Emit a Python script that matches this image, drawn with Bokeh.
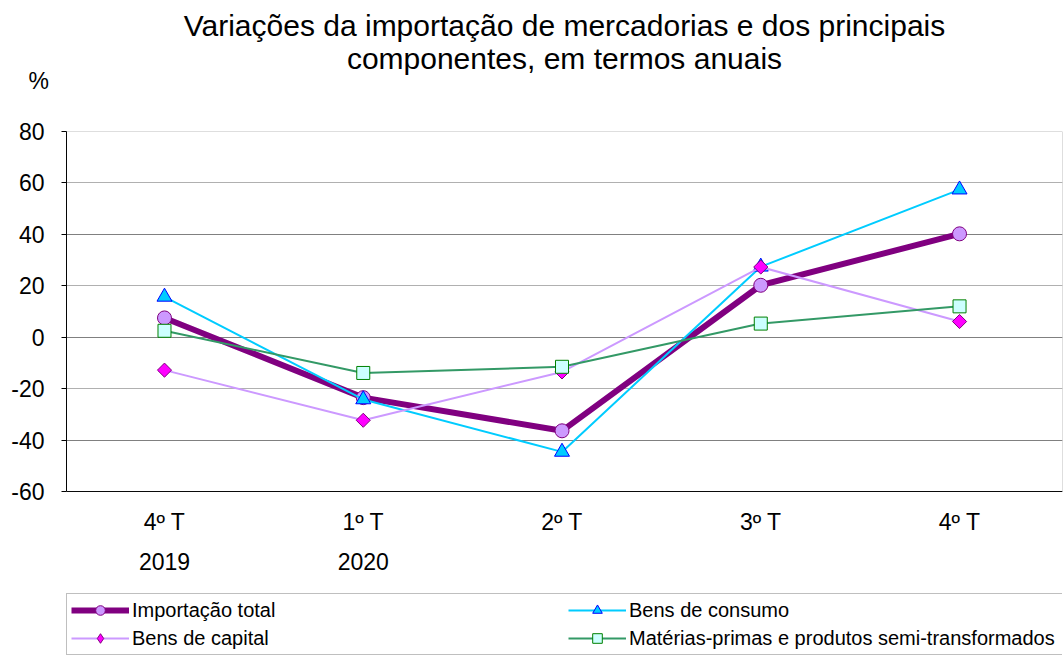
import numpy as np
from bokeh.plotting import figure
from bokeh.models import (Range1d, FixedTicker, LinearAxis, Legend, LegendItem, Grid, Title,
                          BoxAnnotation)
from bokeh.embed import file_html
from bokeh.resources import INLINE

# ---- data ----
quarters = ["4º T", "1º T", "2º T", "3º T", "4º T"]
years = ["2019", "2020"]
xpos = [0, 1, 2, 3, 4]
year_pos = [0, 1]
importacao_total = [7.5, -23.5, -36.4, 20.2, 40.2]
bens_consumo = [15.7, -24.2, -44.6, 27.4, 57.4]
bens_capital = [-12.8, -32.3, -13.5, 27.3, 6.1]
materias_primas = [2.5, -13.9, -11.5, 5.3, 12.0]
yticks = [-60, -40, -20, 0, 20, 40, 60, 80]
ytick_labels = ["-60", "-40", "-20", "0", "20", "40", "60", "80"]
title_lines = ["Variações da importação de mercadorias e dos principais",
               "componentes, em termos anuais"]
unit_label = "%"

FONT = "Liberation Sans"
Y_MIN, Y_MAX = yticks[0], yticks[-1]
PX_PER_UNIT = 360 / (Y_MAX - Y_MIN)          # plot box is 360 px tall
Y_LOW = Y_MIN - 164 / PX_PER_UNIT             # room below the box for labels + legend

p = figure(width=1064, height=655, output_backend="svg", toolbar_location=None,
           x_range=Range1d(-0.493, 4.518), y_range=Range1d(Y_LOW, Y_MAX),
           min_border_left=66, min_border_right=2, min_border_top=131,
           min_border_bottom=0)
p.background_fill_color = "white"
p.border_fill_color = "white"
p.outline_line_color = None

# plot box border
p.add_layout(BoxAnnotation(bottom=Y_MIN, top=Y_MAX, fill_alpha=0, fill_color=None,
                           line_color="#202020", line_width=1, level="overlay"))

# titles stacked in the top panel; the first one added is nearest to the frame
p.add_layout(Title(text=" ", standoff=24.9, text_font=FONT, text_font_size="10px"), "above")
p.add_layout(Title(text=unit_label, align="left", offset=-38, standoff=0,
                   text_font=FONT, text_font_size="23px", text_font_style="normal",
                   text_color="black"), "above")
p.add_layout(Title(text=title_lines[1], align="center", standoff=-18.3,
                   text_font=FONT, text_font_size="30px", text_font_style="normal",
                   text_color="black"), "above")
p.add_layout(Title(text=title_lines[0], align="center", standoff=12.3,
                   text_font=FONT, text_font_size="30px", text_font_style="normal",
                   text_color="black"), "above")

p.xgrid.visible = False
p.ygrid.visible = False
p.add_layout(Grid(dimension=1, ticker=FixedTicker(ticks=[60, 20, -20]), grid_line_color="#b0b0b0"))
p.add_layout(Grid(dimension=1, ticker=FixedTicker(ticks=[40, 0, -40]), grid_line_color="#808080"))

p.yaxis.ticker = FixedTicker(ticks=yticks)
p.yaxis.bounds = (Y_MIN, Y_MAX)
p.yaxis.major_label_overrides = {t: s for t, s in zip(yticks, ytick_labels)}
p.yaxis.major_label_text_font = FONT
p.yaxis.major_label_text_font_size = "23px"
p.yaxis.major_label_text_color = "black"
p.yaxis.axis_line_color = "black"
p.yaxis.major_tick_line_color = "black"
p.yaxis.major_tick_out = 5
p.yaxis.major_tick_in = 0
p.yaxis.minor_tick_line_color = None
p.yaxis.major_label_standoff = 17

p.xaxis.ticker = FixedTicker(ticks=xpos)
p.xaxis.fixed_location = Y_MIN
p.xaxis.major_label_overrides = {i: q for i, q in zip(xpos, quarters)}
p.xaxis.major_label_text_font = FONT
p.xaxis.major_label_text_font_size = "23px"
p.xaxis.major_label_text_color = "black"
p.xaxis.axis_line_color = "black"
p.xaxis.major_tick_line_color = None
p.xaxis.minor_tick_line_color = None
p.xaxis.major_label_standoff = 11

ax2 = LinearAxis(ticker=FixedTicker(ticks=year_pos), fixed_location=Y_MIN,
                 major_label_overrides={i: y for i, y in zip(year_pos, years)},
                 axis_line_color=None, major_tick_line_color=None, minor_tick_line_color=None,
                 major_label_text_font=FONT, major_label_text_font_size="23px",
                 major_label_text_color="black", major_label_standoff=55)
p.add_layout(ax2, "below")

r1l = p.line(xpos, importacao_total, line_color="#800080", line_width=6)
r1m = p.scatter(xpos, importacao_total, marker="circle", size=14,
                fill_color="#cc99ff", line_color="#800080", line_width=1)
r2l = p.line(xpos, bens_consumo, line_color="#00ccff", line_width=2)
r2m = p.scatter(xpos, bens_consumo, marker="triangle", size=15,
                fill_color="#00ccff", line_color="#0000ff", line_width=1)
r3l = p.line(xpos, bens_capital, line_color="#cc99ff", line_width=2)
r3d = p.scatter(xpos, bens_capital, marker="diamond", size=12,
                fill_color="#ff00ff", line_color="#800080", line_width=1)
r3m = p.scatter(xpos, bens_capital, marker="square", angle=np.pi / 4, size=10,
                fill_color="#ff00ff", line_color="#800080", line_width=1)
r4l = p.line(xpos, materias_primas, line_color="#339966", line_width=2)
r4m = p.scatter(xpos, materias_primas, marker="square", size=13,
                fill_color="#ccffff", line_color="#008000", line_width=1)

# items are filled column by column
legend = Legend(items=[
    LegendItem(label="Importação total", renderers=[r1l, r1m]),
    LegendItem(label="Bens de capital", renderers=[r3l, r3d]),
    LegendItem(label="Bens de consumo", renderers=[r2l, r2m]),
    LegendItem(label="Matérias-primas e produtos semi-transformados", renderers=[r4l, r4m]),
], ncols=2, location=(0, 0), padding=4, spacing=4, glyph_height=24, glyph_width=58,
    label_standoff=3, label_width=432, label_text_font=FONT, label_text_font_size="20px",
    label_text_color="black", border_line_color="#808080", border_line_width=1,
    background_fill_color="white", background_fill_alpha=1, margin=0)
p.add_layout(legend, "center")

open("out.html", "w").write(file_html(p, INLINE))
